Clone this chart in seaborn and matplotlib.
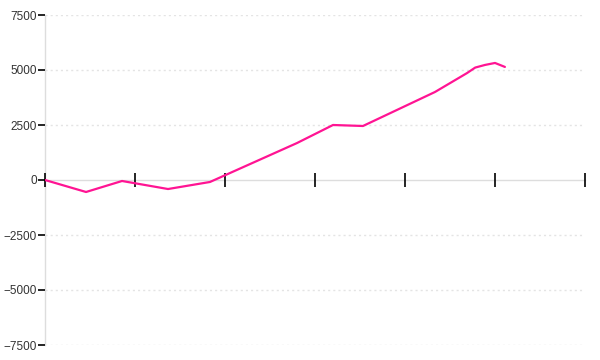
import matplotlib
matplotlib.use("Agg")
import matplotlib.pyplot as plt
import seaborn as sns
import pandas as pd

# Data (x in tick units, tick spacing = 1)
x_vals = [0.0, 0.456, 0.856, 1.367, 1.833, 2.8, 3.2, 3.533, 4.333, 4.689, 4.78, 4.889, 5.0, 5.11]
y_vals = [0, -545, -45, -410, -90, 1680, 2500, 2455, 4000, 4860, 5110, 5230, 5320, 5140]
y_ticks = [-7500, -5000, -2500, 0, 2500, 5000, 7500]
x_ticks = [0, 1, 2, 3, 4, 5, 6]

sns.set_style("white")
plt.rcParams['font.family'] = ['Liberation Sans', 'DejaVu Sans']

df = pd.DataFrame({"x": x_vals, "y": y_vals})

fig = plt.figure(figsize=(6, 3.6), dpi=100)
ax = fig.add_axes([45/600, 15/360, 540/600, 330/360])

sns.lineplot(data=df, x="x", y="y", ax=ax, color="#ff1493", linewidth=1.6, sort=False, zorder=5)

ax.set_xlim(0, 6)
ax.set_ylim(-7500, 7500)
ax.set_yticks(y_ticks)
ax.set_yticklabels([f"{v}".replace("-", "\u2212") for v in y_ticks], fontsize=8.5, color="#333333")
ax.set_xticks(x_ticks)
ax.set_xticklabels([])
ax.set_xlabel("")
ax.set_ylabel("")

for yv in y_ticks:
    if yv != 0:
        ax.axhline(yv, color="#e4e4e4", linewidth=1, linestyle=(0, (1.5, 2.2)), zorder=0)

for s in ["top", "right"]:
    ax.spines[s].set_visible(False)
ax.spines["left"].set_color("#dddddd")
ax.spines["left"].set_linewidth(1)
ax.spines["bottom"].set_position(("data", 0))
ax.spines["bottom"].set_color("#dddddd")
ax.spines["bottom"].set_linewidth(1)
ax.spines["bottom"].set_zorder(0.5)
ax.spines["left"].set_zorder(0.5)

ax.tick_params(axis="y", direction="out", length=5, width=1.2, color="black", pad=1, left=True)
ax.tick_params(axis="x", direction="inout", length=10, width=1.2, color="black", bottom=True)

fig.savefig("out.png", dpi=100)
